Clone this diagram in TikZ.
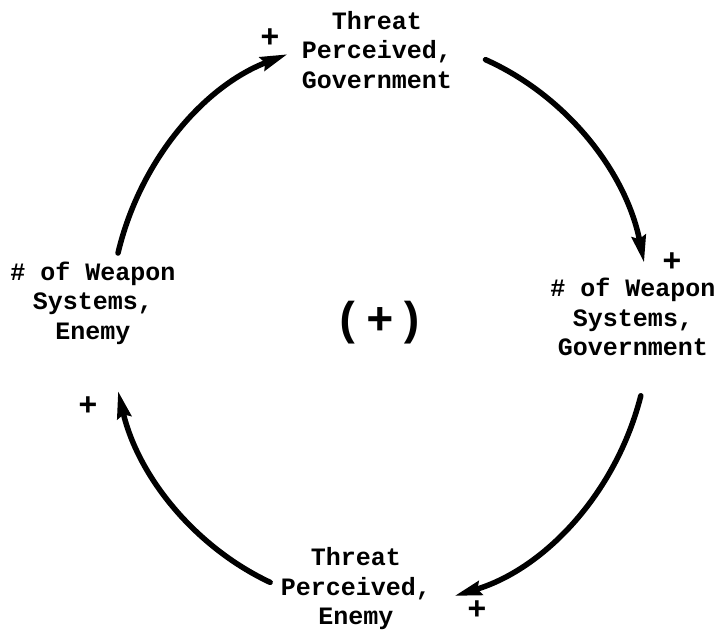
\documentclass[tikz,border=0pt]{standalone}
\usepackage{fontspec}
\setmonofont{Liberation Mono}
\usetikzlibrary{arrows.meta,calc}
\begin{document}
\begin{tikzpicture}[x=1pt,y=1pt,
  lbl/.style={font=\ttfamily\bfseries\fontsize{25}{29.5}\selectfont, align=center, inner sep=0pt},
  pol/.style={font=\ttfamily\bfseries\fontsize{32}{32}\selectfont, inner sep=0pt},
  link/.style={line width=5.5pt, line cap=round, -{Stealth[length=27pt,width=14pt,inset=3pt]}}]
\useasboundingbox (0,0) rectangle (714,640);
% variables
\node[lbl] (tpg) at (377,590) {Threat\\Perceived,\\Government};
\node[lbl] (wsg) at (633,323) {\# of Weapon\\Systems,\\Government};
\node[lbl] (tpe) at (356,51) {Threat\\Perceived,\\Enemy};
\node[lbl] (wse) at (93,337) {\# of Weapon\\Systems,\\Enemy};
\node[font=\ttfamily\bfseries\fontsize{46}{46}\selectfont, inner sep=0pt] (loop) at (380,317) {(\hspace{4pt}+\hspace{4pt})};
% polarity signs
\node[pol] (p1) at (270,602) {+};
\node[pol] (p2) at (672,378) {+};
\node[pol] (p3) at (477,30) {+};
\node[pol] (p4) at (88,234) {+};
% arc geometry: ellipse centre (380,318), radii 270 x 285
\coordinate (o) at (380,318);
\coordinate (s1) at ($(o)+(166:270 and 285)$);
\coordinate (s2) at ($(o)+(67:270 and 285)$);
\coordinate (s3) at ($(o)+(-15:270 and 285)$);
\coordinate (s4) at ($(o)+(-114:270 and 285)$);
\draw[link] (s1) arc[start angle=166, end angle=110, x radius=270, y radius=285];
\draw[link] (s2) arc[start angle=67, end angle=12, x radius=270, y radius=285];
\draw[link] (s3) arc[start angle=-15, end angle=-74, x radius=270, y radius=285];
\draw[link] (s4) arc[start angle=-114, end angle=-166, x radius=270, y radius=285];
\end{tikzpicture}
\end{document}
